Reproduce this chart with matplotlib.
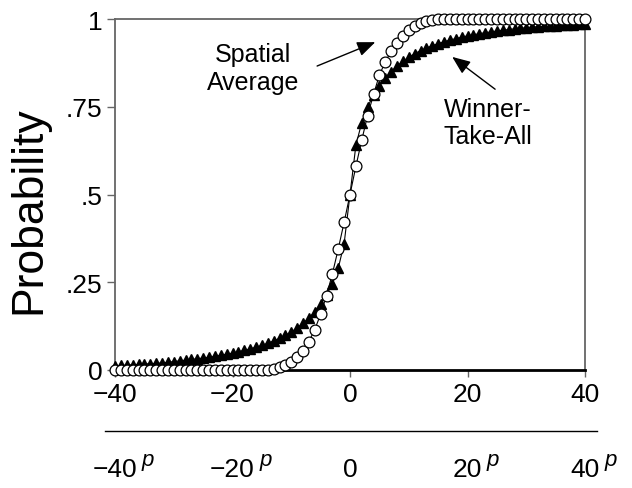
import matplotlib
matplotlib.use('Agg')
import matplotlib.pyplot as plt
from matplotlib.lines import Line2D
from matplotlib.transforms import blended_transform_factory

plt.rcParams['font.family'] = ['Liberation Sans', 'DejaVu Sans']

# stimulus position (deg), one point per degree
x = list(range(-40, 41))

# Spatial Average (open circles)
spatial_avg = ([0.0] * 27 +
               [0.004, 0.008, 0.014, 0.023, 0.036, 0.055, 0.081, 0.115, 0.159,
                0.212, 0.274, 0.345, 0.421, 0.5, 0.58, 0.655, 0.725, 0.785,
                0.84, 0.878, 0.908, 0.932, 0.952, 0.968, 0.981, 0.990, 0.995,
                0.998] +
               [1.0] * 26)

# Winner-Take-All (filled triangles)
winner_take_all = [0.012, 0.013, 0.014, 0.015, 0.016, 0.017, 0.018, 0.019, 0.020,
                   0.022, 0.024, 0.026, 0.028, 0.030, 0.032, 0.034, 0.036, 0.039,
                   0.042, 0.045, 0.048, 0.052, 0.056, 0.060, 0.065, 0.070, 0.076,
                   0.083, 0.090, 0.099, 0.108, 0.120, 0.133, 0.148, 0.166, 0.188,
                   0.214, 0.245, 0.290, 0.360, 0.500, 0.640, 0.705, 0.750, 0.783,
                   0.810, 0.832, 0.850, 0.866, 0.879, 0.891, 0.901, 0.910, 0.917,
                   0.924, 0.930, 0.935, 0.940, 0.944, 0.948, 0.952, 0.955, 0.958,
                   0.961, 0.963, 0.966, 0.968, 0.970, 0.972, 0.974, 0.975, 0.977,
                   0.978, 0.979, 0.980, 0.981, 0.982, 0.983, 0.984, 0.985, 0.986]

xticks = [-40, -20, 0, 20, 40]
xtick_labels = ['\u221240', '\u221220', '0', '20', '40']
yticks = [0, 0.25, 0.5, 0.75, 1]
ytick_labels = ['0', '.25', '.5', '.75', '1']
bottom_labels = ['\u221240', '\u221220', '0', '20', '40']
bottom_has_p = [True, True, False, True, True]

fig = plt.figure(figsize=(6.32, 4.89), dpi=100)
ax = fig.add_axes([115 / 632, 1 - 371 / 489, 470 / 632, 351 / 489])

ax.plot(x, winner_take_all, color='black', lw=0.8, marker='^', ms=6.5,
        mfc='black', mec='black', clip_on=False, zorder=3)
ax.plot(x, spatial_avg, color='black', lw=0.8, marker='o', ms=7.8,
        mfc='white', mec='black', mew=0.9, clip_on=False, zorder=4)

ax.set_xlim(-40, 40)
ax.set_ylim(0, 1)
ax.set_xticks(xticks)
ax.set_xticklabels(xtick_labels)
ax.set_yticks(yticks)
ax.set_yticklabels(ytick_labels)
ax.tick_params(axis='both', direction='out', labelsize=19)
ax.tick_params(axis='y', length=6, width=1, color='#666666', pad=3)
ax.tick_params(axis='x', length=5, width=1, color='#666666', pad=3.5)

for side in ['left', 'right', 'top']:
    ax.spines[side].set_color('#666666')
    ax.spines[side].set_linewidth(1.3)
ax.spines['bottom'].set_color('black')
ax.spines['bottom'].set_linewidth(2)

fig.text(29 / 632, 1 - 210 / 489, 'Probability', fontsize=32, rotation=90,
         ha='center', va='center')

# annotations
arrow = dict(arrowstyle='-|>,head_length=1.1,head_width=0.45',
             color='black', lw=1, shrinkA=0, shrinkB=0)
ax.text(-16.5, 0.86, 'Spatial\nAverage', fontsize=18, ha='center',
        va='center', linespacing=1.2)
ax.annotate('', xy=(4.3, 0.934), xytext=(-5.6, 0.866), arrowprops=arrow)
ax.text(23.5, 0.705, 'Winner-\nTake-All', fontsize=18, ha='center',
        va='center', linespacing=1.2)
ax.annotate('', xy=(17.4, 0.892), xytext=(24.7, 0.80), arrowprops=arrow)

# second scale below the axis
fig.add_artist(Line2D([105 / 632, 597 / 632], [1 - 432 / 489, 1 - 432 / 489],
                      color='black', lw=1))
trans = blended_transform_factory(ax.transData, fig.transFigure)
for xv, lab, hp in zip(xticks, bottom_labels, bottom_has_p):
    ax.text(xv, 1 - 470 / 489, lab, transform=trans, fontsize=19,
            ha='center', va='center')
    if hp:
        ax.annotate('p', xy=(xv, 1 - 470 / 489), xycoords=trans,
                    xytext=(len(lab) * 5.4 + 3, 7), textcoords='offset points',
                    fontsize=16, style='italic', ha='left', va='center')

fig.savefig('out.png', dpi=100)
